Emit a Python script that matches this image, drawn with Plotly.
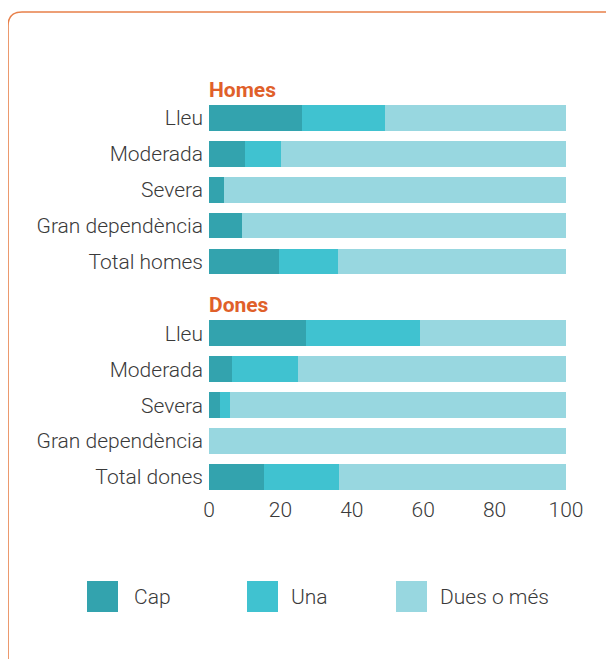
import plotly.graph_objects as go

# ---- data ----
categories = ["Lleu", "Moderada", "Severa", "Gran dependència", "Total homes",
              "Lleu", "Moderada", "Severa", "Gran dependència", "Total dones"]
row_pos = [0, 1, 2, 3, 4, 6, 7, 8, 9, 10]
group_titles = ["Homes", "Dones"]
group_title_pos = [-0.78, 5.2]

cap = [26.0, 10.1, 4.2, 9.2, 19.6, 27.2, 6.4, 3.1, 0.0, 15.4]
una = [23.3, 10.1, 0.0, 0.0, 16.5, 31.9, 18.5, 2.8, 0.0, 21.0]
dues = [50.7, 79.8, 95.8, 90.8, 63.9, 40.9, 75.1, 94.1, 100.0, 63.6]

series_names = ["Cap", "Una", "Dues o més"]
series_values = [cap, una, dues]
series_colors = ["#33A3AE", "#40C2D0", "#98D7E0"]

x_ticks = [0, 20, 40, 60, 80, 100]

# ---- layout geometry (reference pixels; page body adds an 8px offset) ----
OFF = 8
W, H = 614 - OFF, 659 - OFF
L, R, T, B = 209 - OFF, 48, 71 - OFF, 164
PW, PH = W - L - R, H - T - B


def px(x):
    return (x - OFF - L) / PW


def py(y):
    return (H - B - (y - OFF)) / PH


FONT = "Roboto"
TXT = "#3a3a3a"
FS = 21

fig = go.Figure()
for name, vals, col in zip(series_names, series_values, series_colors):
    fig.add_trace(go.Bar(
        y=row_pos, x=vals, name=name, orientation="h",
        marker=dict(color=col, line=dict(width=0)),
        width=0.72, showlegend=False,
    ))

annotations = []
for t, p in zip(group_titles, group_title_pos):
    annotations.append(dict(
        text=f"<b>{t}</b>", x=0, xref="paper", xanchor="left",
        y=p, yref="y", yanchor="middle", showarrow=False, xshift=-2,
        font=dict(family=FONT, size=21, color="#E0602A"),
    ))

# legend drawn as boxes + labels
shapes = []
leg_sq_x = [87, 247, 396]
leg_txt_x = [132, 289, 438]
for name, col, sx, tx in zip(series_names, series_colors, leg_sq_x, leg_txt_x):
    shapes.append(dict(type="rect", xref="paper", yref="paper",
                       x0=px(sx), x1=px(sx + 31), y0=py(612), y1=py(581),
                       fillcolor=col, line=dict(width=0)))
    annotations.append(dict(
        text=name, x=px(tx), xref="paper", xanchor="left",
        y=py(597), yref="paper", yanchor="middle", showarrow=False,
        font=dict(family=FONT, size=FS, color=TXT, weight=300),
    ))

# rounded orange frame
path = (f"M {px(8)},{py(680)} L {px(8)},{py(26)} "
        f"Q {px(8)},{py(12)} {px(22)},{py(12)} L {px(640)},{py(12)}")
shapes.append(dict(type="path", xref="paper", yref="paper", path=path,
                   line=dict(color="#E8804A", width=1.6)))

fig.update_layout(
    width=W, height=H,
    margin=dict(l=L, r=R, t=T, b=B, pad=0),
    barmode="stack", bargap=0.28,
    plot_bgcolor="white", paper_bgcolor="white",
    font=dict(family=FONT, size=FS, color=TXT, weight=300),
    xaxis=dict(range=[0, 100], tickvals=x_ticks, showgrid=False, zeroline=False,
               showline=False, ticks="", tickfont=dict(size=FS, color=TXT, weight=300),
               fixedrange=True),
    yaxis=dict(range=[10.5, -1.3], tickvals=row_pos, ticktext=categories,
               showgrid=False, zeroline=False, showline=False, ticks="",
               ticklen=0, ticklabelstandoff=5,
               tickfont=dict(size=FS, color=TXT, weight=300), fixedrange=True),
    annotations=annotations, shapes=shapes,
)

fig.write_html("out.html")
